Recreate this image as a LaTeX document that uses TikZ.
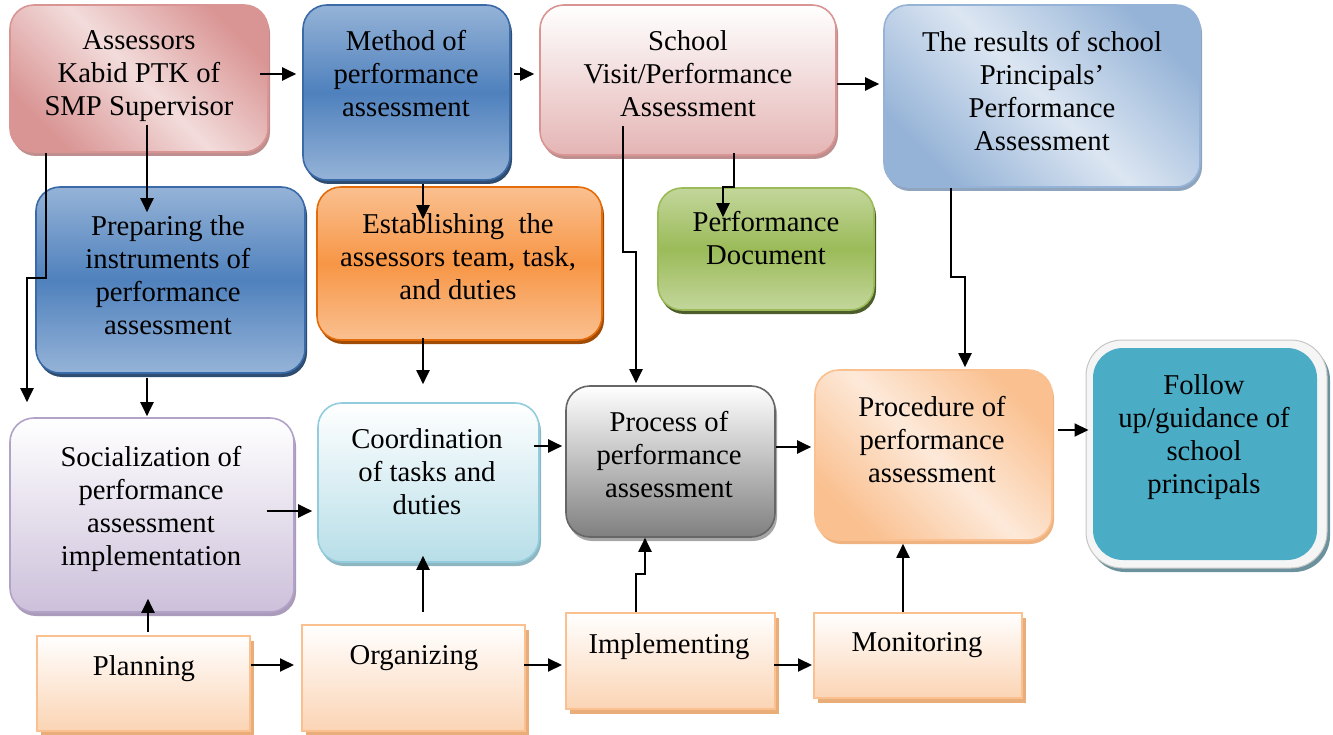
\documentclass[tikz,border=0pt]{standalone}
\usepackage{fontspec}
\setmainfont{Liberation Serif}
\usetikzlibrary{arrows.meta,calc,shadows}
\definecolor{pinkD}{HTML}{D99594}
\definecolor{pinkL}{HTML}{F2DCDB}
\definecolor{blueL}{HTML}{95B3D7}
\definecolor{blueM}{HTML}{4F81BD}
\definecolor{blueB}{HTML}{3A6AA8}
\definecolor{blueP}{HTML}{DCE6F2}
\definecolor{greenL}{HTML}{C3D69B}
\definecolor{greenM}{HTML}{9BBB59}
\definecolor{orL}{HTML}{FAC090}
\definecolor{orM}{HTML}{F79646}
\definecolor{orB}{HTML}{E46C0A}
\definecolor{purL}{HTML}{CCC0DA}
\definecolor{purB}{HTML}{B3A2C7}
\definecolor{cyL}{HTML}{B7DEE8}
\definecolor{cyB}{HTML}{93CDDD}
\definecolor{greyB}{HTML}{666666}
\definecolor{peachL}{HTML}{FDE9D9}
\definecolor{peachM}{HTML}{FBD4B4}
\definecolor{teal}{HTML}{4BACC6}
\begin{document}
\begin{tikzpicture}[x=1pt,y=-1pt,
  rbox/.style={draw, line width=1.6pt, rounded corners=24pt, inner sep=0pt},
  sbox/.style={draw=orL, line width=2pt, inner sep=0pt, top color=white, bottom color=peachM,
     general shadow={shadow xshift=4pt, shadow yshift=-5pt, fill=#1}},
  shad/.style={general shadow={shadow xshift=2pt, shadow yshift=-4pt, fill=#1}},
  vsh/.style 2 args={top color=#1, bottom color=#1, middle color=#2},
  dsh/.style 2 args={left color=#1, right color=#1, middle color=#2, shading angle=-45},
  txt/.style={align=center, inner sep=0pt, font=\fontsize{28.7}{33}\selectfont},
  arr/.style={line width=2pt, -{Triangle[length=14pt,width=13pt]}},
  sz/.style 2 args={minimum width=#1, minimum height=#2}]
\useasboundingbox (0,0) rectangle (1333,735);
% boxes
\node[rbox, sz={258}{147}, draw=pinkD, dsh={pinkD}{pinkL}, shad={pinkD!70!gray}] (b1) at (139,78.5) {};
\node[rbox, sz={207}{175}, draw=blueB, vsh={blueL}{blueM}, shad={blueM!60!black}] (b2) at (406.5,92.5) {};
\node[rbox, sz={296}{150}, draw=pinkD, top color=white, bottom color=pinkD!70!white, shad={pinkD!70!gray}] (b3) at (688,80) {};
\node[rbox, sz={316}{182}, draw=blueL, dsh={blueL}{blueP}, shad={blueL!70!gray}] (b4) at (1042,96) {};
\node[rbox, sz={216}{122}, draw=greenM, vsh={greenL}{greenM}, shad={greenM!50!black}] (b5) at (766,249) {};
\node[rbox, sz={269}{186}, draw=blueB, vsh={blueL}{blueM}, shad={blueM!60!black}] (b6) at (170.5,280) {};
\node[rbox, sz={285}{153}, draw=orB, vsh={orL}{orM}, shad={orB!70!black}] (b7) at (459.5,263.5) {};
\node[rbox, sz={284}{194}, draw=purB, top color=white, bottom color=purL, shad={purB!80!gray}] (b8) at (152,515) {};
\node[rbox, sz={221}{159}, draw=cyB, top color=white, bottom color=cyL, shad={cyB!70!gray}] (b9) at (428.5,482.5) {};
\node[rbox, sz={209}{151}, draw=greyB, top color=white, bottom color=gray, shad={gray!70}] (b10) at (670.5,461.5) {};
\node[rbox, sz={237}{170}, draw=orL, dsh={orL}{peachL}, shad={orL!80!brown}] (b11) at (933.5,455) {};
\node[draw=gray!45, line width=1pt, fill=gray!8, rounded corners=36pt, inner sep=0pt, sz={241}{228}, general shadow={shadow xshift=3pt, shadow yshift=-4pt, fill=teal!40!gray}] (b12o) at (1206.5,454) {};
\node[fill=teal, rounded corners=30pt, inner sep=0pt, sz={224}{212}] (b12) at (1205,454) {};
\node[sbox={orL!70!brown}, sz={213}{95}] (b13) at (143,683) {};
\node[sbox={orL!70!brown}, sz={223}{106}] (b14) at (413.5,678) {};
\node[sbox={orL!70!brown}, sz={209}{96}] (b15) at (670.5,661) {};
\node[sbox={orL!70!brown}, sz={208}{85}] (b16) at (918,655.5) {};
% texts
\node[txt] (t1) at (139,76) {Assessors\\Kabid PTK of\\SMP Supervisor};
\node[txt] (t2) at (406,74) {Method of\\performance\\assessment};
\node[txt] (t3) at (688,73.5) {School\\Visit/Performance\\Assessment};
\node[txt] (t4) at (1042,91.5) {The results of school\\Principals’\\Performance\\Assessment};
\node[txt] (t5) at (766,238) {Performance\\Document};
\node[txt] (t6) at (168,275) {Preparing the\\instruments of\\performance\\assessment};
\node[txt] (t7) at (458,257) {Establishing\ \ the\\assessors team, task,\\and duties};
\node[txt] (t8) at (151,509) {Socialization of\\performance\\assessment\\implementation};
\node[txt] (t9) at (427,472) {Coordination\\of tasks and\\duties};
\node[txt] (t10) at (669,455) {Process of\\performance\\assessment};
\node[txt] (t11) at (932,440) {Procedure of\\performance\\assessment};
\node[txt] (t12) at (1204,437) {Follow\\up/guidance of\\school\\principals};
\node[txt] (t13) at (144,669) {Planning};
\node[txt] (t14) at (414,658) {Organizing};
\node[txt] (t15) at (669,647) {Implementing};
\node[txt] (t16) at (917,645) {Monitoring};
% connectors
\draw[arr] ($(b1.east)+(-9,-4.5)$) -- ($(b2.west)+(-6,-18.5)$);
\draw[arr] ($(b2.east)+(3,-18.5)$) -- ($(b3.west)+(-5,-6)$);
\draw[arr] ($(b3.east)+(0,4)$) -- ($(b4.west)+(-4,-12)$);
\draw[arr] ($(b3.south)+(46,-3)$) -- ++(0,34) -- ++(-11,0) -- ($(b5.north)+(-43,30)$);
\draw[arr] ($(b3.south)+(-65,-30)$) -- ++(0,126) -- ++(13,0) -- ($(b10.north)+(-34.5,-2)$);
\draw[arr] ($(b1.south)+(-93,0)$) -- ++(0,125) -- ++(-19,0) -- ($(b8.north)+(-125,-15)$);
\draw[arr] ($(b1.south)+(8,-28)$) -- ($(b6.north)+(-23.5,26)$);
\draw[arr] ($(b2.south)+(16.5,3)$) -- ($(b7.north)+(-36.5,33)$);
\draw[arr] ($(b6.south)+(-23.5,4)$) -- ($(b8.north)+(-5,-1)$);
\draw[arr] ($(b7.south)+(-36.5,-3)$) -- ($(b9.north)+(-5.5,-18)$);
\draw[arr] ($(b4.south)+(-91,0)$) -- ++(0,89) -- ++(14,0) -- ($(b11.north)+(31.5,-2)$);
\draw[arr] ($(b8.east)+(-28,-4)$) -- ($(b9.west)+(-5,28.5)$);
\draw[arr] ($(b9.east)+(-6,-36.5)$) -- ($(b10.west)+(-3,-15.5)$);
\draw[arr] ($(b10.east)+(0,-14.5)$) -- ($(b11.west)+(-3,-8)$);
\draw[arr] ($(b11.east)+(5,-25)$) -- ($(b12o.west)+(3,-24)$);
\draw[arr] ($(b13.north)+(5,-3)$) -- ($(b8.south)+(-4,-14)$);
\draw[arr] ($(b14.north)+(9.5,-12)$) -- ($(b9.south)+(-5.5,-7)$);
\draw[arr] ($(b15.north)+(-34.5,0)$) -- ++(0,-38) -- ++(9,0) -- ($(b10.south)+(-25.5,0)$);
\draw[arr] ($(b16.north)+(-15,0)$) -- ($(b11.south)+(-30.5,3)$);
\draw[arr] ($(b13.east)+(0,-18)$) -- ($(b14.west)+(-7,-13)$);
\draw[arr] ($(b14.east)+(-2,-13)$) -- ($(b15.west)+(-3,4)$);
\draw[arr] ($(b15.east)+(-2,4)$) -- ($(b16.west)+(-1,9.5)$);
\end{tikzpicture}
\end{document}
